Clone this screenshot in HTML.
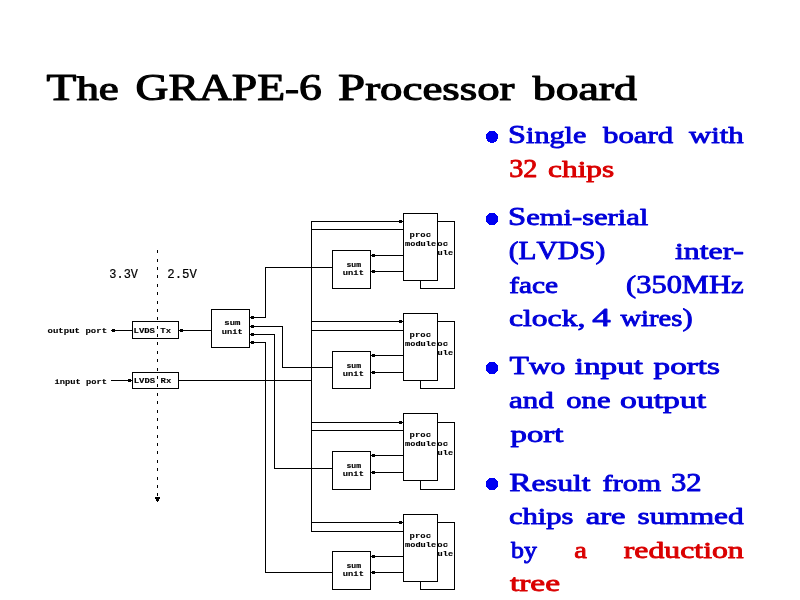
<!DOCTYPE html>
<html><head><meta charset="utf-8"><title>The GRAPE-6 Processor board</title>
<style>
html,body{margin:0;padding:0;background:#fff;}
body{width:800px;height:600px;overflow:hidden;}
svg{display:block;will-change:transform;}
text{font-kerning:none;font-variant-ligatures:none;}
</style></head><body>
<svg width="800" height="600" viewBox="0 0 800 600">
<rect width="800" height="600" fill="#fff"/>
<text transform="translate(46.60,99.65) scale(1.3222,1.0000)" font-family="Liberation Serif" font-size="34.0" fill="#000" stroke="#000" stroke-width="1.1" stroke-linejoin="round"><tspan font-size="36.9">T</tspan><tspan font-size="34.0">he</tspan></text>
<text transform="translate(135.51,99.65) scale(1.2363,1.0000)" font-family="Liberation Serif" font-size="34.0" fill="#000" stroke="#000" stroke-width="1.1" stroke-linejoin="round"><tspan font-size="36.9">GRAPE</tspan><tspan font-size="34.0">-</tspan><tspan font-size="36.9">6</tspan></text>
<text transform="translate(338.12,99.65) scale(1.3179,1.0000)" font-family="Liberation Serif" font-size="34.0" fill="#000" stroke="#000" stroke-width="1.1" stroke-linejoin="round"><tspan font-size="36.9">P</tspan><tspan font-size="34.0">rocessor</tspan></text>
<text transform="translate(532.74,99.65) scale(1.3470,1.0000)" font-family="Liberation Serif" font-size="34.0" fill="#000" stroke="#000" stroke-width="1.1" stroke-linejoin="round"><tspan font-size="34.0">board</tspan></text>
<text transform="translate(508.09,143.28) scale(1.2796,1.0000)" font-family="Liberation Serif" font-size="23.6" fill="#0000da" stroke="#0000da" stroke-width="0.85" stroke-linejoin="round"><tspan font-size="25.2">S</tspan><tspan font-size="23.6">ingle</tspan></text>
<text transform="translate(603.05,143.28) scale(1.3058,1.0000)" font-family="Liberation Serif" font-size="23.6" fill="#0000da" stroke="#0000da" stroke-width="0.85" stroke-linejoin="round"><tspan font-size="23.6">board</tspan></text>
<text transform="translate(688.92,143.28) scale(1.3032,1.0000)" font-family="Liberation Serif" font-size="23.6" fill="#0000da" stroke="#0000da" stroke-width="0.85" stroke-linejoin="round"><tspan font-size="23.6">with</tspan></text>
<text transform="translate(509.13,177.47) scale(1.1192,1.0000)" font-family="Liberation Serif" font-size="23.6" fill="#da0000" stroke="#da0000" stroke-width="0.85" stroke-linejoin="round"><tspan font-size="25.2">32</tspan></text>
<text transform="translate(548.12,177.47) scale(1.3258,1.0000)" font-family="Liberation Serif" font-size="23.6" fill="#da0000" stroke="#da0000" stroke-width="0.85" stroke-linejoin="round"><tspan font-size="23.6">chips</tspan></text>
<text transform="translate(507.97,225.28) scale(1.2955,1.0000)" font-family="Liberation Serif" font-size="23.6" fill="#0000da" stroke="#0000da" stroke-width="0.85" stroke-linejoin="round"><tspan font-size="25.2">S</tspan><tspan font-size="23.6">emi-serial</tspan></text>
<text transform="translate(508.80,259.38) scale(1.1684,1.0000)" font-family="Liberation Serif" font-size="23.6" fill="#0000da" stroke="#0000da" stroke-width="0.85" stroke-linejoin="round"><tspan font-size="25.2">(LVDS)</tspan></text>
<text transform="translate(674.90,259.38) scale(1.3496,1.0000)" font-family="Liberation Serif" font-size="23.6" fill="#0000da" stroke="#0000da" stroke-width="0.85" stroke-linejoin="round"><tspan font-size="23.6">inter-</tspan></text>
<text transform="translate(509.22,292.88) scale(1.2465,1.0000)" font-family="Liberation Serif" font-size="23.6" fill="#0000da" stroke="#0000da" stroke-width="0.85" stroke-linejoin="round"><tspan font-size="23.6">face</tspan></text>
<text transform="translate(626.08,292.88) scale(1.2080,1.0000)" font-family="Liberation Serif" font-size="23.6" fill="#0000da" stroke="#0000da" stroke-width="0.85" stroke-linejoin="round"><tspan font-size="25.2">(350MH</tspan><tspan font-size="23.6">z</tspan></text>
<text transform="translate(508.96,326.38) scale(1.3412,1.0000)" font-family="Liberation Serif" font-size="23.6" fill="#0000da" stroke="#0000da" stroke-width="0.85" stroke-linejoin="round"><tspan font-size="23.6">clock,</tspan></text>
<text transform="translate(592.20,326.38) scale(1.4645,1.0000)" font-family="Liberation Serif" font-size="23.6" fill="#0000da" stroke="#0000da" stroke-width="0.85" stroke-linejoin="round"><tspan font-size="25.2">4</tspan></text>
<text transform="translate(620.39,326.38) scale(1.2139,1.0000)" font-family="Liberation Serif" font-size="23.6" fill="#0000da" stroke="#0000da" stroke-width="0.85" stroke-linejoin="round"><tspan font-size="23.6">wires</tspan><tspan font-size="25.2">)</tspan></text>
<text transform="translate(509.56,374.38) scale(1.2599,1.0000)" font-family="Liberation Serif" font-size="23.6" fill="#0000da" stroke="#0000da" stroke-width="0.85" stroke-linejoin="round"><tspan font-size="25.2">T</tspan><tspan font-size="23.6">wo</tspan></text>
<text transform="translate(574.70,374.38) scale(1.4078,1.0000)" font-family="Liberation Serif" font-size="23.6" fill="#0000da" stroke="#0000da" stroke-width="0.85" stroke-linejoin="round"><tspan font-size="23.6">input</tspan></text>
<text transform="translate(653.56,374.38) scale(1.4076,1.0000)" font-family="Liberation Serif" font-size="23.6" fill="#0000da" stroke="#0000da" stroke-width="0.85" stroke-linejoin="round"><tspan font-size="23.6">ports</tspan></text>
<text transform="translate(509.07,408.38) scale(1.3133,1.0000)" font-family="Liberation Serif" font-size="23.6" fill="#0000da" stroke="#0000da" stroke-width="0.85" stroke-linejoin="round"><tspan font-size="23.6">and</tspan></text>
<text transform="translate(566.29,408.38) scale(1.2979,1.0000)" font-family="Liberation Serif" font-size="23.6" fill="#0000da" stroke="#0000da" stroke-width="0.85" stroke-linejoin="round"><tspan font-size="23.6">one</tspan></text>
<text transform="translate(620.12,408.38) scale(1.4253,1.0000)" font-family="Liberation Serif" font-size="23.6" fill="#0000da" stroke="#0000da" stroke-width="0.85" stroke-linejoin="round"><tspan font-size="23.6">output</tspan></text>
<text transform="translate(510.56,441.57) scale(1.3899,1.0000)" font-family="Liberation Serif" font-size="23.6" fill="#0000da" stroke="#0000da" stroke-width="0.85" stroke-linejoin="round"><tspan font-size="23.6">port</tspan></text>
<text transform="translate(509.20,490.77) scale(1.3232,1.0000)" font-family="Liberation Serif" font-size="23.6" fill="#0000da" stroke="#0000da" stroke-width="0.85" stroke-linejoin="round"><tspan font-size="25.2">R</tspan><tspan font-size="23.6">esult</tspan></text>
<text transform="translate(602.62,490.77) scale(1.2755,1.0000)" font-family="Liberation Serif" font-size="23.6" fill="#0000da" stroke="#0000da" stroke-width="0.85" stroke-linejoin="round"><tspan font-size="23.6">from</tspan></text>
<text transform="translate(670.95,490.77) scale(1.2152,1.0000)" font-family="Liberation Serif" font-size="23.6" fill="#0000da" stroke="#0000da" stroke-width="0.85" stroke-linejoin="round"><tspan font-size="25.2">32</tspan></text>
<text transform="translate(508.99,524.17) scale(1.2961,1.0000)" font-family="Liberation Serif" font-size="23.6" fill="#0000da" stroke="#0000da" stroke-width="0.85" stroke-linejoin="round"><tspan font-size="23.6">chips</tspan></text>
<text transform="translate(585.64,524.17) scale(1.3852,1.0000)" font-family="Liberation Serif" font-size="23.6" fill="#0000da" stroke="#0000da" stroke-width="0.85" stroke-linejoin="round"><tspan font-size="23.6">are</tspan></text>
<text transform="translate(637.48,524.17) scale(1.3284,1.0000)" font-family="Liberation Serif" font-size="23.6" fill="#0000da" stroke="#0000da" stroke-width="0.85" stroke-linejoin="round"><tspan font-size="23.6">summed</tspan></text>
<text transform="translate(510.97,557.58) scale(1.0962,1.0000)" font-family="Liberation Serif" font-size="23.6" fill="#0000da" stroke="#0000da" stroke-width="0.85" stroke-linejoin="round"><tspan font-size="23.6">by</tspan></text>
<text transform="translate(574.31,557.58) scale(1.2091,1.0000)" font-family="Liberation Serif" font-size="23.6" fill="#da0000" stroke="#da0000" stroke-width="0.85" stroke-linejoin="round"><tspan font-size="23.6">a</tspan></text>
<text transform="translate(623.74,557.58) scale(1.3473,1.0000)" font-family="Liberation Serif" font-size="23.6" fill="#da0000" stroke="#da0000" stroke-width="0.85" stroke-linejoin="round"><tspan font-size="23.6">reduction</tspan></text>
<text transform="translate(509.88,590.67) scale(1.4190,1.0000)" font-family="Liberation Serif" font-size="23.6" fill="#da0000" stroke="#da0000" stroke-width="0.85" stroke-linejoin="round"><tspan font-size="23.6">tree</tspan></text>
<circle cx="492" cy="136.8" r="6.1" fill="#0000f2" shape-rendering="crispEdges"/>
<circle cx="492" cy="219.0" r="6.1" fill="#0000f2" shape-rendering="crispEdges"/>
<circle cx="492" cy="368.0" r="6.1" fill="#0000f2" shape-rendering="crispEdges"/>
<circle cx="492" cy="484.0" r="6.1" fill="#0000f2" shape-rendering="crispEdges"/>
<g fill="#000" shape-rendering="crispEdges">
<rect x="132" y="321" width="47" height="18" fill="#fff"/>
<rect x="132" y="321" width="47" height="1"/>
<rect x="132" y="338" width="47" height="1"/>
<rect x="132" y="321" width="1" height="18"/>
<rect x="178" y="321" width="1" height="18"/>
<rect x="132" y="372" width="47" height="17" fill="#fff"/>
<rect x="132" y="372" width="47" height="1"/>
<rect x="132" y="388" width="47" height="1"/>
<rect x="132" y="372" width="1" height="17"/>
<rect x="178" y="372" width="1" height="17"/>
<rect x="211" y="309" width="39" height="39" fill="#fff"/>
<rect x="211" y="309" width="39" height="1"/>
<rect x="211" y="347" width="39" height="1"/>
<rect x="211" y="309" width="1" height="39"/>
<rect x="249" y="309" width="1" height="39"/>
<rect x="157" y="250" width="1" height="3"/>
<rect x="157" y="259" width="1" height="3"/>
<rect x="157" y="267" width="1" height="3"/>
<rect x="157" y="275" width="1" height="3"/>
<rect x="157" y="284" width="1" height="3"/>
<rect x="157" y="292" width="1" height="3"/>
<rect x="157" y="301" width="1" height="3"/>
<rect x="157" y="309" width="1" height="3"/>
<rect x="157" y="317" width="1" height="3"/>
<rect x="157" y="326" width="1" height="3"/>
<rect x="157" y="334" width="1" height="3"/>
<rect x="157" y="342" width="1" height="3"/>
<rect x="157" y="351" width="1" height="3"/>
<rect x="157" y="359" width="1" height="3"/>
<rect x="157" y="368" width="1" height="3"/>
<rect x="157" y="376" width="1" height="3"/>
<rect x="157" y="384" width="1" height="3"/>
<rect x="157" y="393" width="1" height="3"/>
<rect x="157" y="401" width="1" height="3"/>
<rect x="157" y="410" width="1" height="3"/>
<rect x="157" y="418" width="1" height="3"/>
<rect x="157" y="426" width="1" height="3"/>
<rect x="157" y="435" width="1" height="3"/>
<rect x="157" y="443" width="1" height="3"/>
<rect x="157" y="451" width="1" height="3"/>
<rect x="157" y="460" width="1" height="3"/>
<rect x="157" y="468" width="1" height="3"/>
<rect x="157" y="477" width="1" height="3"/>
<rect x="157" y="485" width="1" height="3"/>
<rect x="157" y="493" width="1" height="3"/>
<rect x="155" y="497" width="5" height="2"/><rect x="156" y="499" width="3" height="2"/><rect x="157" y="501" width="1" height="1"/>
<rect x="112" y="330" width="21" height="1"/>
<path d="M111,330 h1 v-1 h3 v3 h-3 v-1 h-1 z"/>
<rect x="179" y="330" width="33" height="1"/>
<path d="M179,330 h1 v-1 h3 v3 h-3 v-1 h-1 z"/>
<rect x="111" y="380" width="22" height="1"/>
<path d="M132,380 h-1 v-1 h-3 v3 h3 v-1 h1 z"/>
<rect x="178" y="380" width="134" height="1"/>
<rect x="250" y="317" width="16" height="1"/>
<rect x="265" y="267" width="1" height="51"/>
<rect x="265" y="267" width="68" height="1"/>
<rect x="250" y="326" width="33" height="1"/>
<rect x="282" y="326" width="1" height="42"/>
<rect x="282" y="367" width="51" height="1"/>
<rect x="250" y="334" width="25" height="1"/>
<rect x="274" y="334" width="1" height="135"/>
<rect x="274" y="468" width="59" height="1"/>
<rect x="250" y="342" width="16" height="1"/>
<rect x="265" y="342" width="1" height="231"/>
<rect x="265" y="572" width="68" height="1"/>
<path d="M250,317 h1 v-1 h3 v3 h-3 v-1 h-1 z"/>
<path d="M250,326 h1 v-1 h3 v3 h-3 v-1 h-1 z"/>
<path d="M250,334 h1 v-1 h3 v3 h-3 v-1 h-1 z"/>
<path d="M250,342 h1 v-1 h3 v3 h-3 v-1 h-1 z"/>
<rect x="311" y="221" width="1" height="311"/>
<rect x="311" y="221" width="93" height="1"/>
<path d="M403,221 h-1 v-1 h-3 v3 h3 v-1 h1 z"/>
<rect x="311" y="229" width="93" height="1"/>
<rect x="420" y="221" width="35" height="68" fill="#fff"/>
<rect x="420" y="221" width="35" height="1"/>
<rect x="420" y="288" width="35" height="1"/>
<rect x="420" y="221" width="1" height="68"/>
<rect x="454" y="221" width="1" height="68"/>
<text transform="translate(426.61,245.94) scale(0.9922,0.8000)" font-family="Liberation Mono" font-weight="bold" font-size="9" fill="#000" stroke="#000" stroke-width="0.15" stroke-linejoin="round">proc</text><text transform="translate(422.08,254.84) scale(0.9587,0.8000)" font-family="Liberation Mono" font-weight="bold" font-size="9" fill="#000" stroke="#000" stroke-width="0.15" stroke-linejoin="round">module</text>
<rect x="403" y="213" width="35" height="68" fill="#fff"/>
<rect x="403" y="213" width="35" height="1"/>
<rect x="403" y="280" width="35" height="1"/>
<rect x="403" y="213" width="1" height="68"/>
<rect x="437" y="213" width="1" height="68"/>
<text transform="translate(409.61,236.94) scale(0.9922,0.8000)" font-family="Liberation Mono" font-weight="bold" font-size="9" fill="#000" stroke="#000" stroke-width="0.15" stroke-linejoin="round">proc</text><text transform="translate(405.08,245.84) scale(0.9587,0.8000)" font-family="Liberation Mono" font-weight="bold" font-size="9" fill="#000" stroke="#000" stroke-width="0.15" stroke-linejoin="round">module</text>
<rect x="332" y="250" width="39" height="39" fill="#fff"/>
<rect x="332" y="250" width="39" height="1"/>
<rect x="332" y="288" width="39" height="1"/>
<rect x="332" y="250" width="1" height="39"/>
<rect x="370" y="250" width="1" height="39"/>
<rect x="371" y="255" width="33" height="1"/>
<path d="M371,255 h1 v-1 h3 v3 h-3 v-1 h-1 z"/>
<rect x="371" y="271" width="33" height="1"/>
<path d="M371,271 h1 v-1 h3 v3 h-3 v-1 h-1 z"/>
<text transform="translate(346.49,266.84) scale(0.9037,0.8000)" font-family="Liberation Mono" font-weight="bold" font-size="9" fill="#000" stroke="#000" stroke-width="0.15" stroke-linejoin="round">sum</text><text transform="translate(342.79,275.24) scale(0.9799,0.8000)" font-family="Liberation Mono" font-weight="bold" font-size="9" fill="#000" stroke="#000" stroke-width="0.15" stroke-linejoin="round">unit</text>
<rect x="311" y="321" width="93" height="1"/>
<path d="M403,321 h-1 v-1 h-3 v3 h3 v-1 h1 z"/>
<rect x="311" y="330" width="93" height="1"/>
<rect x="420" y="321" width="35" height="68" fill="#fff"/>
<rect x="420" y="321" width="35" height="1"/>
<rect x="420" y="388" width="35" height="1"/>
<rect x="420" y="321" width="1" height="68"/>
<rect x="454" y="321" width="1" height="68"/>
<text transform="translate(426.61,345.94) scale(0.9922,0.8000)" font-family="Liberation Mono" font-weight="bold" font-size="9" fill="#000" stroke="#000" stroke-width="0.15" stroke-linejoin="round">proc</text><text transform="translate(422.08,354.84) scale(0.9587,0.8000)" font-family="Liberation Mono" font-weight="bold" font-size="9" fill="#000" stroke="#000" stroke-width="0.15" stroke-linejoin="round">module</text>
<rect x="403" y="313" width="35" height="68" fill="#fff"/>
<rect x="403" y="313" width="35" height="1"/>
<rect x="403" y="380" width="35" height="1"/>
<rect x="403" y="313" width="1" height="68"/>
<rect x="437" y="313" width="1" height="68"/>
<text transform="translate(409.61,336.94) scale(0.9922,0.8000)" font-family="Liberation Mono" font-weight="bold" font-size="9" fill="#000" stroke="#000" stroke-width="0.15" stroke-linejoin="round">proc</text><text transform="translate(405.08,345.84) scale(0.9587,0.8000)" font-family="Liberation Mono" font-weight="bold" font-size="9" fill="#000" stroke="#000" stroke-width="0.15" stroke-linejoin="round">module</text>
<rect x="332" y="351" width="39" height="38" fill="#fff"/>
<rect x="332" y="351" width="39" height="1"/>
<rect x="332" y="388" width="39" height="1"/>
<rect x="332" y="351" width="1" height="38"/>
<rect x="370" y="351" width="1" height="38"/>
<rect x="371" y="355" width="33" height="1"/>
<path d="M371,355 h1 v-1 h3 v3 h-3 v-1 h-1 z"/>
<rect x="371" y="372" width="33" height="1"/>
<path d="M371,372 h1 v-1 h3 v3 h-3 v-1 h-1 z"/>
<text transform="translate(346.49,367.84) scale(0.9037,0.8000)" font-family="Liberation Mono" font-weight="bold" font-size="9" fill="#000" stroke="#000" stroke-width="0.15" stroke-linejoin="round">sum</text><text transform="translate(342.79,376.24) scale(0.9799,0.8000)" font-family="Liberation Mono" font-weight="bold" font-size="9" fill="#000" stroke="#000" stroke-width="0.15" stroke-linejoin="round">unit</text>
<rect x="311" y="422" width="93" height="1"/>
<path d="M403,422 h-1 v-1 h-3 v3 h3 v-1 h1 z"/>
<rect x="311" y="430" width="93" height="1"/>
<rect x="420" y="422" width="35" height="68" fill="#fff"/>
<rect x="420" y="422" width="35" height="1"/>
<rect x="420" y="489" width="35" height="1"/>
<rect x="420" y="422" width="1" height="68"/>
<rect x="454" y="422" width="1" height="68"/>
<text transform="translate(426.61,445.94) scale(0.9922,0.8000)" font-family="Liberation Mono" font-weight="bold" font-size="9" fill="#000" stroke="#000" stroke-width="0.15" stroke-linejoin="round">proc</text><text transform="translate(422.08,454.84) scale(0.9587,0.8000)" font-family="Liberation Mono" font-weight="bold" font-size="9" fill="#000" stroke="#000" stroke-width="0.15" stroke-linejoin="round">module</text>
<rect x="403" y="413" width="35" height="68" fill="#fff"/>
<rect x="403" y="413" width="35" height="1"/>
<rect x="403" y="480" width="35" height="1"/>
<rect x="403" y="413" width="1" height="68"/>
<rect x="437" y="413" width="1" height="68"/>
<text transform="translate(409.61,436.94) scale(0.9922,0.8000)" font-family="Liberation Mono" font-weight="bold" font-size="9" fill="#000" stroke="#000" stroke-width="0.15" stroke-linejoin="round">proc</text><text transform="translate(405.08,445.84) scale(0.9587,0.8000)" font-family="Liberation Mono" font-weight="bold" font-size="9" fill="#000" stroke="#000" stroke-width="0.15" stroke-linejoin="round">module</text>
<rect x="332" y="451" width="39" height="39" fill="#fff"/>
<rect x="332" y="451" width="39" height="1"/>
<rect x="332" y="489" width="39" height="1"/>
<rect x="332" y="451" width="1" height="39"/>
<rect x="370" y="451" width="1" height="39"/>
<rect x="371" y="455" width="33" height="1"/>
<path d="M371,455 h1 v-1 h3 v3 h-3 v-1 h-1 z"/>
<rect x="371" y="472" width="33" height="1"/>
<path d="M371,472 h1 v-1 h3 v3 h-3 v-1 h-1 z"/>
<text transform="translate(346.49,467.84) scale(0.9037,0.8000)" font-family="Liberation Mono" font-weight="bold" font-size="9" fill="#000" stroke="#000" stroke-width="0.15" stroke-linejoin="round">sum</text><text transform="translate(342.79,476.24) scale(0.9799,0.8000)" font-family="Liberation Mono" font-weight="bold" font-size="9" fill="#000" stroke="#000" stroke-width="0.15" stroke-linejoin="round">unit</text>
<rect x="311" y="522" width="93" height="1"/>
<path d="M403,522 h-1 v-1 h-3 v3 h3 v-1 h1 z"/>
<rect x="311" y="531" width="93" height="1"/>
<rect x="420" y="522" width="35" height="68" fill="#fff"/>
<rect x="420" y="522" width="35" height="1"/>
<rect x="420" y="589" width="35" height="1"/>
<rect x="420" y="522" width="1" height="68"/>
<rect x="454" y="522" width="1" height="68"/>
<text transform="translate(426.61,546.94) scale(0.9922,0.8000)" font-family="Liberation Mono" font-weight="bold" font-size="9" fill="#000" stroke="#000" stroke-width="0.15" stroke-linejoin="round">proc</text><text transform="translate(422.08,555.84) scale(0.9587,0.8000)" font-family="Liberation Mono" font-weight="bold" font-size="9" fill="#000" stroke="#000" stroke-width="0.15" stroke-linejoin="round">module</text>
<rect x="403" y="514" width="35" height="68" fill="#fff"/>
<rect x="403" y="514" width="35" height="1"/>
<rect x="403" y="581" width="35" height="1"/>
<rect x="403" y="514" width="1" height="68"/>
<rect x="437" y="514" width="1" height="68"/>
<text transform="translate(409.61,537.94) scale(0.9922,0.8000)" font-family="Liberation Mono" font-weight="bold" font-size="9" fill="#000" stroke="#000" stroke-width="0.15" stroke-linejoin="round">proc</text><text transform="translate(405.08,546.84) scale(0.9587,0.8000)" font-family="Liberation Mono" font-weight="bold" font-size="9" fill="#000" stroke="#000" stroke-width="0.15" stroke-linejoin="round">module</text>
<rect x="332" y="551" width="39" height="39" fill="#fff"/>
<rect x="332" y="551" width="39" height="1"/>
<rect x="332" y="589" width="39" height="1"/>
<rect x="332" y="551" width="1" height="39"/>
<rect x="370" y="551" width="1" height="39"/>
<rect x="371" y="556" width="33" height="1"/>
<path d="M371,556 h1 v-1 h3 v3 h-3 v-1 h-1 z"/>
<rect x="371" y="572" width="33" height="1"/>
<path d="M371,572 h1 v-1 h3 v3 h-3 v-1 h-1 z"/>
<text transform="translate(346.49,567.84) scale(0.9037,0.8000)" font-family="Liberation Mono" font-weight="bold" font-size="9" fill="#000" stroke="#000" stroke-width="0.15" stroke-linejoin="round">sum</text><text transform="translate(342.79,576.24) scale(0.9799,0.8000)" font-family="Liberation Mono" font-weight="bold" font-size="9" fill="#000" stroke="#000" stroke-width="0.15" stroke-linejoin="round">unit</text>
</g>
<g>
<text transform="translate(109.35,277.80) scale(0.9538,0.9500)" font-family="Liberation Mono" font-weight="normal" font-size="12.5" fill="#000" stroke="#000" stroke-width="0.2" stroke-linejoin="round">3.3V</text><text transform="translate(167.23,277.80) scale(0.9877,0.9500)" font-family="Liberation Mono" font-weight="normal" font-size="12.5" fill="#000" stroke="#000" stroke-width="0.2" stroke-linejoin="round">2.5V</text><text transform="translate(47.47,332.54) scale(1.0051,0.8000)" font-family="Liberation Mono" font-weight="bold" font-size="9" fill="#000" stroke="#000" stroke-width="0.15" stroke-linejoin="round">output port</text><text transform="translate(54.47,383.79) scale(0.9737,0.8000)" font-family="Liberation Mono" font-weight="bold" font-size="9" fill="#000" stroke="#000" stroke-width="0.15" stroke-linejoin="round">input port</text><text transform="translate(133.55,332.74) scale(0.9916,0.8000)" font-family="Liberation Mono" font-weight="bold" font-size="9" fill="#000" stroke="#000" stroke-width="0.15" stroke-linejoin="round">LVDS Tx</text><text transform="translate(133.75,383.24) scale(0.9916,0.8000)" font-family="Liberation Mono" font-weight="bold" font-size="9" fill="#000" stroke="#000" stroke-width="0.15" stroke-linejoin="round">LVDS Rx</text><text transform="translate(224.35,324.64) scale(0.9909,0.8000)" font-family="Liberation Mono" font-weight="bold" font-size="9" fill="#000" stroke="#000" stroke-width="0.15" stroke-linejoin="round">sum</text><text transform="translate(221.70,333.74) scale(0.9701,0.8000)" font-family="Liberation Mono" font-weight="bold" font-size="9" fill="#000" stroke="#000" stroke-width="0.15" stroke-linejoin="round">unit</text>
</g>
</svg>
</body></html>
